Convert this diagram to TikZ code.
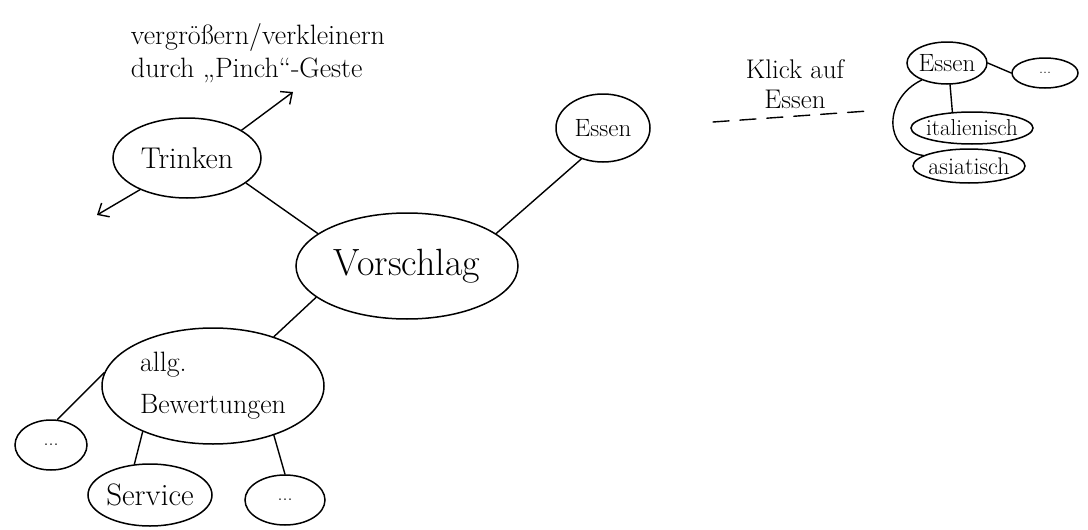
\documentclass[tikz,border=0pt]{standalone}
\usepackage{fontspec}
\usetikzlibrary{shapes.geometric,arrows.meta}
\begin{document}
\begin{tikzpicture}[x=1pt,y=-1pt,
  bubble/.style={ellipse, draw, line width=1.5pt, inner sep=0pt},
  conn/.style={line width=1.4pt, line cap=round},
  tip/.style={-{Straight Barb[length=9pt,width=16pt,line width=1.4pt]}}
]
\useasboundingbox (0,0) rectangle (1088,530);

% annotation
\node[align=left, font=\fontsize{28}{33}\selectfont] (anno) at (258,53) {vergrößern/verkleinern\\durch „Pinch“-Geste};

% main nodes
\node[bubble, minimum width=148pt, minimum height=80pt, font=\fontsize{30}{34}\selectfont] (trinken) at (187,158) {Trinken};
\node[bubble, minimum width=222pt, minimum height=106pt, font=\fontsize{38}{44}\selectfont] (vorschlag) at (407,266) {Vorschlag};
\node[bubble, minimum width=94pt, minimum height=68pt, font=\fontsize{25}{30}\selectfont] (essen) at (603,128) {Essen};
\node[bubble, minimum width=222pt, minimum height=116pt, align=left, font=\fontsize{28}{32}\selectfont] (allg) at (213,386) {allg.\\[10pt]Bewertungen};
\node[bubble, minimum width=72pt, minimum height=50pt, font=\fontsize{20}{24}\selectfont] (dotsL) at (51,445) {...};
\node[bubble, minimum width=124pt, minimum height=62pt, font=\fontsize{31}{36}\selectfont] (service) at (150,495) {Service};
\node[bubble, minimum width=80pt, minimum height=50pt, font=\fontsize{20}{24}\selectfont] (dotsR) at (285,500) {...};

% right cluster
\node[align=center, font=\fontsize{27}{30}\selectfont] (klick) at (795,84) {Klick auf\\Essen};
\node[bubble, minimum width=80pt, minimum height=42pt, font=\fontsize{25}{28}\selectfont] (essen2) at (947,63) {Essen};
\node[bubble, minimum width=66pt, minimum height=30pt, font=\fontsize{16}{20}\selectfont] (dots2) at (1045,73) {...};
\node[bubble, minimum width=122pt, minimum height=32pt, inner xsep=-9pt, font=\fontsize{23}{26}\selectfont] (ital) at (972,128) {italienisch};
\node[bubble, minimum width=112pt, minimum height=34pt, inner xsep=-9pt, font=\fontsize{24}{26}\selectfont] (asia) at (969,166) {asiatisch};

% connectors
\draw[conn] (trinken.-23) -- (vorschlag.160);
\draw[conn] (vorschlag.20) -- (essen.235);
\draw[conn] (vorschlag.199) -- (allg.39);
\draw[conn] (allg.173) -- (dotsL.76);
\draw[conn] (allg.213) -- (service.117);
\draw[conn] (allg.-39) -- (dotsR.90);

\coordinate (pinchUp) at (293,92);
\coordinate (pinchDown) at (97,215);
\draw[conn,tip] (trinken.27) -- (pinchUp);
\draw[conn,tip] (trinken.214) -- (pinchDown);

\coordinate (dashL) at (713,122);
\coordinate (dashR) at (868,111);
\draw[conn, dash pattern=on 16pt off 11pt] (dashL) -- (dashR);

\draw[conn] (essen2.east) -- (dots2.west);
\draw[conn] (essen2.-82) -- (ital.141);
\draw[conn] (essen2.214) .. controls (884,98) and (882,150) .. (asia.167);
\end{tikzpicture}
\end{document}
